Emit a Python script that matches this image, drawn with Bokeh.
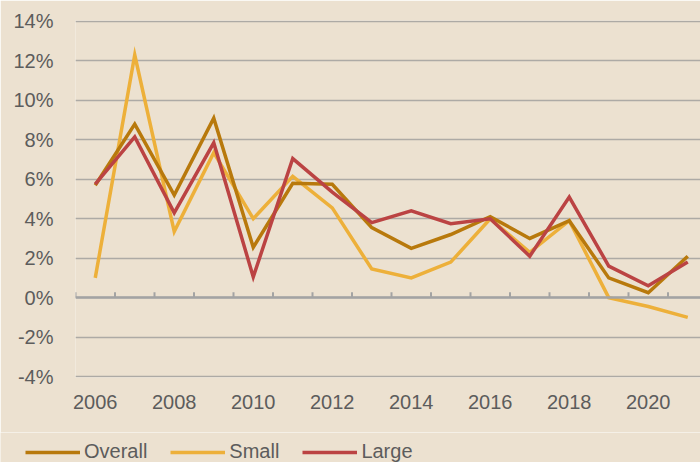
from bokeh.plotting import figure
from bokeh.layouts import column
from bokeh.models import (Range1d, FixedTicker, PrintfTickFormatter, Legend, LegendItem, Span, ColumnDataSource)
from bokeh.embed import file_html
from bokeh.resources import INLINE

years = list(range(2006, 2022))
overall = [5.7, 8.8, 5.2, 9.1, 2.55, 5.8, 5.75, 3.55, 2.5, 3.2, 4.1, 3.0, 3.9, 1.0, 0.25, 2.1]
small = [1.0, 12.3, 3.35, 7.35, 4.0, 6.15, 4.55, 1.45, 1.0, 1.8, 4.0, 2.3, 3.9, 0.0, -0.45, -1.0]
large = [5.75, 8.15, 4.3, 7.85, 1.05, 7.05, 5.35, 3.8, 4.4, 3.75, 4.0, 2.1, 5.1, 1.6, 0.6, 1.8]
series_names = ["Overall", "Small", "Large"]
y_ticks = [-4, -2, 0, 2, 4, 6, 8, 10, 12, 14]
x_ticks = [2006, 2008, 2010, 2012, 2014, 2016, 2018, 2020]

BG = "#ECE1D0"
TXT = "#5c5c5c"
FONT = "Liberation Sans"
C_OVERALL = "#B8790C"
C_SMALL = "#EDB03A"
C_LARGE = "#BB4343"

p = figure(width=700, height=432, output_backend="svg", toolbar_location=None,
           x_range=Range1d(years[0] - 0.5, years[0] - 0.5 + 625 / 39.5),
           y_range=Range1d(-4.05, 14.05),
           min_border_left=75, min_border_right=0, min_border_top=20, min_border_bottom=55,
           background_fill_color=BG, border_fill_color=BG, outline_line_color=None)
p.frame_align = False

# axes
p.xaxis.ticker = FixedTicker(ticks=x_ticks)
p.xaxis.axis_line_color = None
p.xaxis.major_tick_line_color = None
p.xaxis.minor_tick_line_color = None
p.xaxis.major_tick_out = 0
p.xaxis.major_tick_in = 0
p.xaxis.minor_tick_out = 0
p.xaxis.major_label_text_font = FONT
p.xaxis.major_label_text_font_size = "20px"
p.xaxis.major_label_text_color = TXT
p.xaxis.major_label_standoff = 17

p.yaxis.ticker = FixedTicker(ticks=y_ticks)
p.yaxis.formatter = PrintfTickFormatter(format="%d%%")
p.yaxis.axis_line_color = None
p.yaxis.major_tick_line_color = None
p.yaxis.minor_tick_line_color = None
p.yaxis.major_tick_out = 0
p.yaxis.major_tick_in = 0
p.yaxis.minor_tick_out = 0
p.yaxis.major_label_text_font = FONT
p.yaxis.major_label_text_font_size = "20px"
p.yaxis.major_label_text_color = TXT
p.yaxis.major_label_standoff = 22

p.xgrid.grid_line_color = None
p.ygrid.ticker = FixedTicker(ticks=y_ticks)
p.ygrid.grid_line_color = "#ADAAA5"
p.ygrid.grid_line_width = 1.5

# zero axis line with ticks between years
p.add_layout(Span(location=0, dimension="width", line_color="#A3A3A3", line_width=2.5))
bounds = [y - 0.5 for y in years]
p.segment(x0=bounds, x1=bounds, y0=[0] * len(bounds), y1=[0.27] * len(bounds),
          line_color="#A3A3A3", line_width=2)

src = ColumnDataSource(dict(year=years, overall=overall, small=small, large=large))
r_small = p.line("year", "small", source=src, line_color=C_SMALL, line_width=3.5, line_join="miter")
r_overall = p.line("year", "overall", source=src, line_color=C_OVERALL, line_width=3.5, line_join="miter")
r_large = p.line("year", "large", source=src, line_color=C_LARGE, line_width=3.5, line_join="miter")

# legend strip (separate figure below the chart)
lg = figure(width=700, height=30, output_backend="svg", toolbar_location=None,
            x_range=Range1d(0, 1), y_range=Range1d(0, 1),
            x_axis_type=None, y_axis_type=None,
            min_border_left=0, min_border_right=0, min_border_top=0, min_border_bottom=0,
            background_fill_color=BG, border_fill_color=BG, outline_line_color=None)
lg.frame_align = False
lg.grid.grid_line_color = None
items = []
for name, col in zip(series_names, [C_OVERALL, C_SMALL, C_LARGE]):
    r = lg.line(x=[-5, -4], y=[-5, -5], line_color=col, line_width=3.5)
    items.append(LegendItem(label=name, renderers=[r]))
legend = Legend(items=items, orientation="horizontal", location=(25, -1),
                padding=0, margin=0, spacing=23, label_standoff=4,
                glyph_width=55, glyph_height=18, label_height=18,
                label_text_font=FONT, label_text_font_size="20px", label_text_color=TXT,
                background_fill_alpha=0, border_line_alpha=0)
lg.add_layout(legend)

open("out.html", "w").write(file_html(column(p, lg, spacing=0), INLINE))
